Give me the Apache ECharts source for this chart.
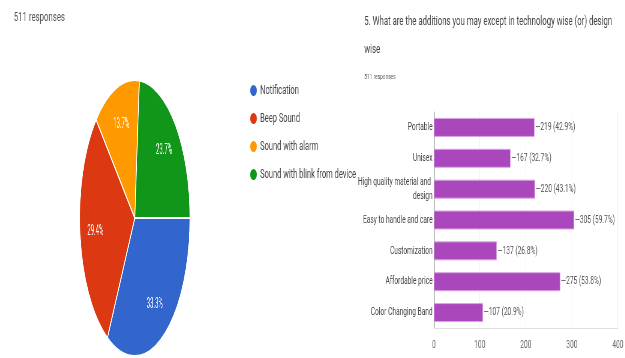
<!DOCTYPE html>
<html>
<head>
<meta charset="utf-8">
<script src="https://cdn.jsdelivr.net/npm/echarts@6/dist/echarts.min.js"></script>
<style>
  html, body { margin: 0; padding: 0; background: #fff; }
  body { width: 625px; height: 358px; position: relative; overflow: hidden; }
  /* the screenshot is squashed sideways, so both boxes are drawn wide and scaled down */
  #main { position: absolute; left: 0; top: 0; width: 1042px; height: 358px; transform: scaleX(0.6); transform-origin: 0 0; }
  #pie { position: absolute; left: 0; top: 0; width: 1563px; height: 358px; transform: scaleX(0.4); transform-origin: 0 0; }
</style>
</head>
<body>
<div id="main"></div>
<div id="pie"></div>
<script>
// pie: question 4 (511 responses)
const pieNames = ['Notification', 'Beep Sound', 'Sound with alarm', 'Sound with blink from device'];
const pieCounts = [170, 150, 70, 121];
const pieColors = ['#3366cc', '#dc3912', '#ff9900', '#109618'];

// bar: question 5 (511 responses)
const barNames = ['Portable', 'Unisex', 'High quality material and design', 'Easy to handle and care',
  'Customization', 'Affordable price', 'Color Changing Band'];
const barCounts = [219, 167, 220, 305, 137, 275, 107];
const xTicks = [0, 100, 200, 300, 400];
const total = 511;

const font = 'Roboto';
const pieData = pieNames.map((n, i) => ({ name: n, value: pieCounts[i], itemStyle: { color: pieColors[i] } }));

// main chart: texts, legend and the bar chart
const main = echarts.init(document.getElementById('main'));
main.setOption({
  animation: false,
  textStyle: { fontFamily: font },
  title: [
    { text: '511 responses', left: 18, top: 6, textStyle: { fontSize: 13, fontWeight: 'normal', color: '#555' } },
    {
      text: '5. What are the additions you may except in technology wise (or) design\nwise',
      left: 602, top: 3,
      textStyle: { fontSize: 13, fontWeight: 'normal', color: '#444', lineHeight: 28 }
    },
    { text: '511 responses', left: 602, top: 68, textStyle: { fontSize: 8, fontWeight: 'normal', color: '#555' } }
  ],
  legend: {
    orient: 'vertical',
    left: 412, top: 79,
    icon: 'circle',
    itemWidth: 12, itemHeight: 11, itemGap: 15,
    textStyle: { fontSize: 12.5, color: '#444' },
    data: pieNames
  },
  grid: { left: 723, right: 5, top: 112, bottom: 30 },
  xAxis: {
    type: 'value', min: 0, max: 400, interval: 100,
    axisLine: { show: true, lineStyle: { color: '#e0e0e0' } },
    axisTick: { show: false },
    splitLine: { lineStyle: { color: '#f0f0f0' } },
    axisLabel: {
      fontSize: 11, color: '#666', margin: 12,
      formatter: v => xTicks.includes(v) ? String(v) : ''
    }
  },
  yAxis: {
    type: 'category', inverse: true, data: barNames,
    axisLine: { show: true, lineStyle: { color: '#555' } },
    axisTick: { show: false },
    axisLabel: { fontSize: 11, color: '#444', margin: 2, width: 128, overflow: 'break', lineHeight: 14 }
  },
  series: [
    {
      // only feeds the legend, the visible pie is in the other box
      type: 'pie', radius: 0, center: [200, 200], silent: true,
      label: { show: false }, labelLine: { show: false },
      data: pieData
    },
    {
      type: 'bar', data: barCounts, barWidth: 19,
      itemStyle: { color: '#ab47bc', borderColor: '#d9a6e0', borderWidth: 1 },
      label: {
        show: true, position: 'right', distance: 1, fontSize: 11, color: '#555',
        formatter: p => '\u2014' + p.value + ' (' + (p.value / total * 100).toFixed(1) + '%)'
      }
    }
  ]
});

// pie chart, squashed into an ellipse by the css scale
const pie = echarts.init(document.getElementById('pie'));
pie.setOption({
  animation: false,
  textStyle: { fontFamily: font },
  series: [
    {
      type: 'pie', center: [337, 218], radius: 138, startAngle: 0, clockwise: true,
      itemStyle: { borderColor: '#fff', borderWidth: 2 },
      label: { show: false }, labelLine: { show: false },
      data: pieData
    },
    {
      // transparent ring, only used to put the percent labels further out
      type: 'pie', center: [337, 218], radius: [55, 138], startAngle: 0, clockwise: true, silent: true,
      itemStyle: { color: 'transparent' },
      label: {
        show: true, position: 'inside', fontSize: 15, color: '#fff',
        formatter: p => (p.value / total * 100).toFixed(1) + '%'
      },
      labelLine: { show: false },
      data: pieData.map(d => ({ name: d.name, value: d.value }))
    }
  ]
});
</script>
</body>
</html>
